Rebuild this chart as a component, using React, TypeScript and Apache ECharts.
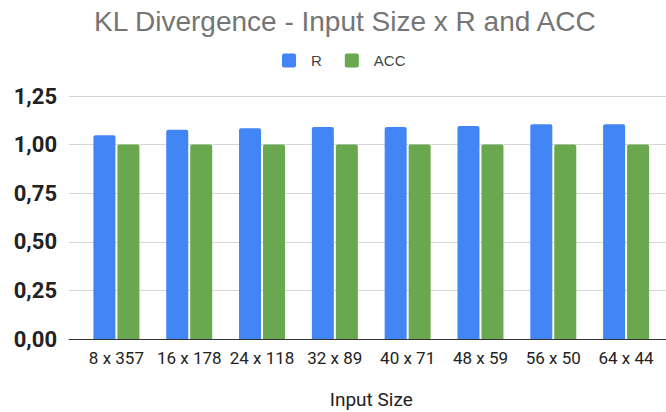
import React, { useEffect, useRef } from "react";
import * as echarts from "echarts";

const categories = ["8 x 357", "16 x 178", "24 x 118", "32 x 89", "40 x 71", "48 x 59", "56 x 50", "64 x 44"];
const rValues = [1.048, 1.076, 1.084, 1.09, 1.09, 1.096, 1.105, 1.105];
const accValues = [1.0, 1.0, 1.0, 1.0, 1.0, 1.0, 1.0, 1.0];
const yTicks = { min: 0, max: 1.25, interval: 0.25 };

const FONT = "Roboto";
const TITLE_FONT = "'Liberation Sans', Arial, sans-serif";
// small square with slightly rounded corners for the legend keys
const KEY_ICON =
  "path://M2,0 H12 A2,2 0 0 1 14,2 V12 A2,2 0 0 1 12,14 H2 A2,2 0 0 1 0,12 V2 A2,2 0 0 1 2,0 Z";

export default function App() {
  const ref = useRef<HTMLDivElement>(null);

  useEffect(() => {
    if (!ref.current) return;
    const chart = echarts.init(ref.current, null, { renderer: "svg" });
    const fmt = (v: number) => v.toFixed(2).replace(".", ",");
    chart.setOption({
      animation: false,
      backgroundColor: "#ffffff",
      textStyle: { fontFamily: FONT },
      title: {
        text: "KL Divergence - Input Size x R and ACC",
        left: 94,
        top: 7,
        padding: 0,
        textStyle: { fontFamily: TITLE_FONT, fontSize: 28, fontWeight: "normal", color: "#757575" },
      },
      legend: {
        top: 53,
        left: 282,
        padding: 0,
        icon: KEY_ICON,
        itemWidth: 14,
        itemHeight: 14,
        itemGap: 23,
        textStyle: { fontFamily: TITLE_FONT, fontSize: 15, color: "#444444", padding: [0, 0, 0, 10] },
        data: ["R", "ACC"],
      },
      grid: [
        { left: 80, right: 3.5, top: 96, bottom: 73, outerBoundsMode: "none", containLabel: false },
        { left: 69, right: 0, top: 96, bottom: 73, outerBoundsMode: "none", containLabel: false },
      ],
      xAxis: [
        {
          type: "category",
          gridIndex: 0,
          data: categories,
          axisLine: { show: false },
          axisTick: { show: false },
          axisLabel: { interval: 0, fontFamily: FONT, fontSize: 17, color: "#222222", margin: 10 },
          name: "Input Size",
          nameLocation: "middle",
          nameGap: 51,
          nameTextStyle: { fontFamily: FONT, fontSize: 19, color: "#222222" },
        },
        {
          type: "value",
          gridIndex: 1,
          min: 0,
          max: 1,
          axisLine: { show: true, lineStyle: { color: "#333333", width: 1 } },
          axisTick: { show: false },
          axisLabel: { show: false },
          splitLine: { show: false },
        },
      ],
      yAxis: [
        {
          type: "value",
          gridIndex: 0,
          ...yTicks,
          show: false,
          splitLine: { show: false },
        },
        {
          type: "value",
          gridIndex: 1,
          ...yTicks,
          axisLine: { show: false },
          axisTick: { show: false },
          axisLabel: {
            formatter: fmt,
            fontFamily: FONT,
            fontSize: 22,
            fontWeight: "bold",
            color: "#222222",
            margin: 12,
          },
          splitLine: { lineStyle: { color: "#d6d6d6", width: 1 } },
        },
      ],
      series: [
        {
          name: "R",
          type: "bar",
          xAxisIndex: 0,
          yAxisIndex: 0,
          data: rValues,
          barWidth: 22,
          barGap: "9%",
          itemStyle: { color: "#4285f4", borderRadius: [2, 2, 0, 0] },
        },
        {
          name: "ACC",
          type: "bar",
          xAxisIndex: 0,
          yAxisIndex: 0,
          data: accValues,
          barWidth: 22,
          barGap: "9%",
          itemStyle: { color: "#6aa84f", borderRadius: [2, 2, 0, 0] },
        },
      ],
    });
    return () => chart.dispose();
  }, []);

  return (
    <div
      ref={ref}
      style={{ position: "fixed", left: 0, top: 0, width: 666, height: 412 }}
    />
  );
}
